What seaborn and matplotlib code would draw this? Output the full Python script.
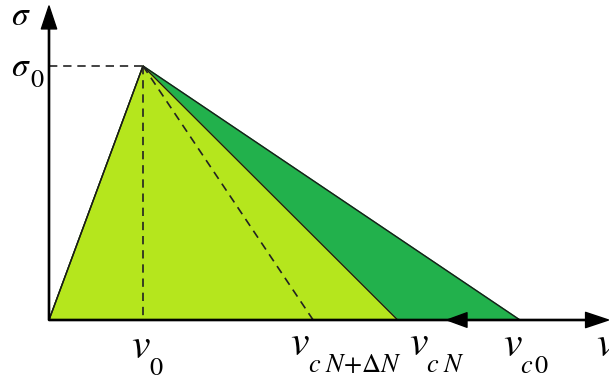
import matplotlib
matplotlib.use("Agg")
import matplotlib.pyplot as plt
import seaborn as sns
import pandas as pd

sns.set_theme(style="white")
plt.rcParams["mathtext.fontset"] = "stix"

# Characteristic points of the stress-displacement law
v0 = 1.0          # displacement at peak stress
v_cNdN = 2.81     # critical displacement after N + dN cycles
v_cN = 3.71       # critical displacement after N cycles
v_c0 = 5.01       # initial critical displacement
sigma0 = 1.0      # peak stress

# Displacement labels: main symbol and its subscript
label_main = [r"$v$", r"$v$", r"$v$", r"$v$"]
label_sub = [r"$\mathrm{0}$", r"$c\;N\!+\!\Delta N$", r"$c\;N$", r"$c\,\mathrm{0}$"]

light_green = "#B5E61D"
dark_green = "#22B14C"

PX_X, PX_Y = 94.0, 254.0   # pixels per data unit
X0, Y0 = 49.0, 320.0       # pixel position of the origin


def px(x, y):
    """Pixel position (from top-left) to data coordinates."""
    return (x - X0) / PX_X, (Y0 - y) / PX_Y


fig = plt.figure(figsize=(6.09, 3.81), dpi=100)
ax = fig.add_axes([0, 0, 1, 1])
ax.set_xlim(-X0 / PX_X, (609 - X0) / PX_X)
ax.set_ylim(-(381 - Y0) / PX_Y, Y0 / PX_Y)
ax.axis("off")

# Initial (undamaged) envelope and current envelope
outer = pd.DataFrame({"v": [0, v0, v_c0, 0], "s": [0, sigma0, 0, 0]})
inner = pd.DataFrame({"v": [0, v0, v_cN, 0], "s": [0, sigma0, 0, 0]})
ax.fill(outer["v"], outer["s"], color=dark_green, zorder=1)
ax.fill(inner["v"], inner["s"], color=light_green, zorder=2)
sns.lineplot(data=outer, x="v", y="s", sort=False, color="#1a1a1a", lw=1.0, ax=ax, zorder=3)
sns.lineplot(data=inner, x="v", y="s", sort=False, color="#1a1a1a", lw=1.0, ax=ax, zorder=3)

# Dashed guides
dash = dict(color="#222222", lw=1.2, ls=(0, (5, 3.5)), zorder=4)
ax.plot([0, v0], [sigma0, sigma0], **dash)
ax.plot([v0, v0], [sigma0, 0], **dash)
ax.plot([v0, v_cNdN], [sigma0, 0], **dash)

# Axes with arrow heads
arrow = dict(facecolor="black", edgecolor="black", width=0.9, headwidth=11, headlength=16.5, shrink=0)
ax.annotate("", xy=px(49, 6), xytext=(0, 0), arrowprops=arrow, zorder=5)
ax.annotate("", xy=px(608.5, 320), xytext=(0, 0), arrowprops=arrow, zorder=5)
# Shift of the critical displacement
ax.annotate("", xy=px(447, 320), xytext=px(467, 320),
            arrowprops=dict(facecolor="black", edgecolor="black", width=0.1,
                            headwidth=10.5, headlength=14.4, shrink=0), zorder=5)

# Stress labels
ax.text(*px(11, 25), r"$\sigma$", fontsize=24, ha="left", va="baseline", color="black")
ax.text(*px(11, 76), r"$\sigma$", fontsize=24, ha="left", va="baseline", color="black")
ax.text(*px(30, 87), r"$\mathrm{0}$", fontsize=19, ha="left", va="baseline", color="black")

# Displacement labels
main_px = [(131, 358), (290, 355), (409, 355), (503, 356)]
sub_px = [(149, 375), (308, 372), (426, 372), (520, 373)]
for (mx, my), (sx, sy), m, s in zip(main_px, sub_px, label_main, label_sub):
    ax.text(*px(mx, my), m, fontsize=30, ha="left", va="baseline", color="black")
    ax.text(*px(sx, sy), s, fontsize=19, ha="left", va="baseline", color="black")
ax.text(*px(596, 356), r"$v$", fontsize=30, ha="left", va="baseline", color="black")

fig.savefig("out.png", dpi=100)
